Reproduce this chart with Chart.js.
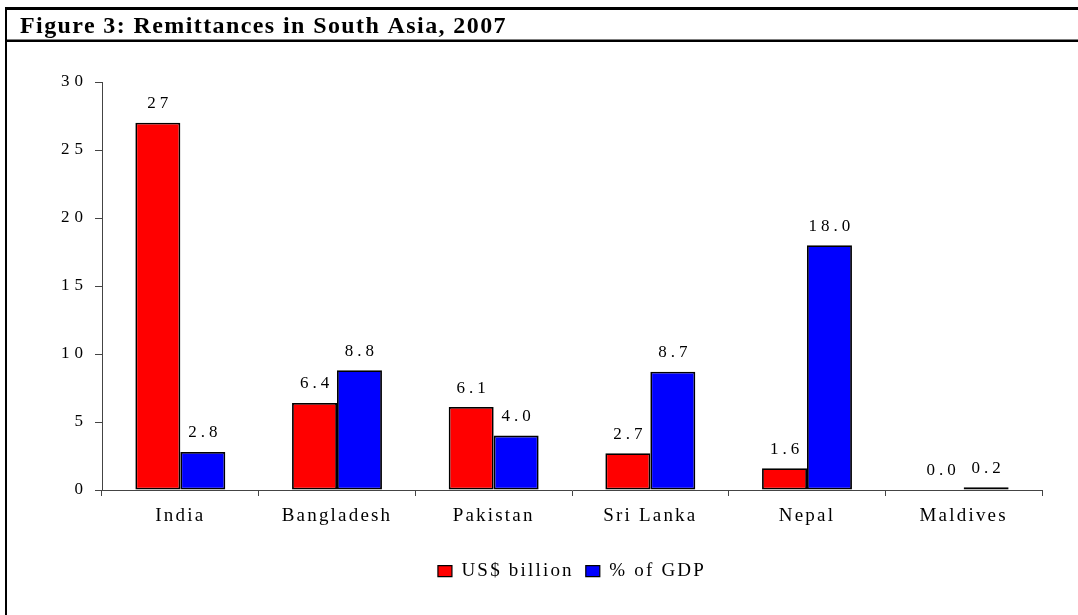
<!DOCTYPE html>
<html>
<head>
<meta charset="utf-8">
<script src="https://cdn.jsdelivr.net/npm/chart.js@4/dist/chart.umd.min.js"></script>
<style>
  html, body { margin: 0; padding: 0; background: #ffffff; }
  #wrap { width: 1078px; height: 615px; position: relative; }
  canvas { display: block; }
</style>
</head>
<body>
<div id="wrap"><canvas id="c" width="1078" height="615"></canvas></div>
<script>
const chartTitle = 'Figure 3: Remittances in South Asia, 2007';
const categories = ['India', 'Bangladesh', 'Pakistan', 'Sri Lanka', 'Nepal', 'Maldives'];
const seriesNames = ['US$ billion', '% of GDP'];
const usdBillion = [27, 6.4, 6.1, 2.7, 1.6, 0.0];
const pctOfGdp = [2.8, 8.8, 4.0, 8.7, 18.0, 0.2];
const yTicks = [0, 5, 10, 15, 20, 25, 30];

const SERIF = "'Liberation Serif', 'Times New Roman', serif";
const LS = 2.2;      // letter spacing for word labels
const NUM_LS = 5;    // letter spacing for numbers

function fmtUsd(v) { return v >= 10 ? String(v) : v.toFixed(1); }
function fmtPct(v) { return v.toFixed(1); }

class SpacedLinearScale extends Chart.LinearScale {
  drawLabels(chartArea) {
    const ctx = this.ctx;
    const prev = ctx.letterSpacing;
    ctx.letterSpacing = NUM_LS + 'px';
    super.drawLabels(chartArea);
    ctx.letterSpacing = prev;
  }
}
SpacedLinearScale.id = 'spacedLinear';
SpacedLinearScale.defaults = Chart.LinearScale.defaults;
Chart.register(SpacedLinearScale);

const framePlugin = {
  id: 'frame',
  beforeLayout(chart) { chart.ctx.letterSpacing = LS + 'px'; },
  beforeDraw(chart) {
    const ctx = chart.ctx;
    ctx.letterSpacing = LS + 'px';
    ctx.save();
    ctx.fillStyle = '#ffffff';
    ctx.fillRect(0, 0, chart.width, chart.height);
    ctx.fillStyle = '#000000';
    ctx.fillRect(5, 7, chart.width - 5, 3);
    ctx.fillRect(5, 39.5, chart.width - 5, 2.5);
    ctx.fillRect(5, 7, 2, chart.height - 7);
    ctx.letterSpacing = '1.4px';
    ctx.font = 'bold 24px ' + SERIF;
    ctx.textAlign = 'left';
    ctx.textBaseline = 'alphabetic';
    ctx.fillText(chartTitle, 20, 33);
    ctx.restore();
  }
};

const valueLabelPlugin = {
  id: 'valueLabels',
  afterDatasetsDraw(chart) {
    const ctx = chart.ctx;
    ctx.save();
    const ls = 4;
    ctx.letterSpacing = ls + 'px';
    ctx.font = '17px ' + SERIF;
    ctx.fillStyle = '#000000';
    ctx.textAlign = 'center';
    ctx.textBaseline = 'middle';
    chart.data.datasets.forEach((ds, di) => {
      const meta = chart.getDatasetMeta(di);
      meta.data.forEach((bar, i) => {
        const v = ds.data[i];
        const txt = di === 0 ? fmtUsd(v) : fmtPct(v);
        ctx.fillText(txt, bar.x + ls / 2, bar.y - 19);
      });
    });
    ctx.restore();
  }
};

const AXIS = '#444444';

new Chart(document.getElementById('c'), {
  type: 'bar',
  data: {
    labels: categories,
    datasets: [
      { label: seriesNames[0], data: usdBillion, backgroundColor: '#FF0000', borderColor: '#000000', borderWidth: 1.8, borderSkipped: false },
      { label: seriesNames[1], data: pctOfGdp, backgroundColor: '#0000FF', borderColor: '#000000', borderWidth: 1.8, borderSkipped: false }
    ]
  },
  options: {
    responsive: false,
    animation: false,
    devicePixelRatio: 1,
    layout: { padding: { top: 82, left: 20, right: 36, bottom: 24.3 } },
    datasets: { bar: { categoryPercentage: 0.574, barPercentage: 1.0 } },
    plugins: {
      title: { display: false },
      tooltip: { enabled: false },
      legend: {
        display: true,
        position: 'bottom',
        fullSize: false,
        labels: {
          font: { family: SERIF, size: 19 },
          color: '#000000',
          boxWidth: 14,
          boxHeight: 11,
          padding: 12,
          generateLabels(chart) {
            const items = Chart.Legend.defaults.labels.generateLabels(chart);
            items.forEach(it => { it.lineWidth = 1.2; });
            return items;
          }
        }
      }
    },
    scales: {
      x: {
        offset: true,
        grid: { display: true, drawOnChartArea: false, drawTicks: true, tickLength: 6, color: AXIS, offset: true },
        border: { display: true, color: AXIS, width: 1 },
        ticks: { font: { family: SERIF, size: 19 }, color: '#000000', padding: 9, autoSkip: false, maxRotation: 0 },
        afterFit(scale) { scale.height = 59.7; }
      },
      y: {
        type: 'spacedLinear',
        min: yTicks[0],
        max: yTicks[yTicks.length - 1],
        grid: { display: true, drawOnChartArea: false, drawTicks: true, tickLength: 7, color: AXIS },
        border: { display: true, color: AXIS, width: 1 },
        ticks: { stepSize: yTicks[1] - yTicks[0], font: { family: SERIF, size: 17 }, color: '#000000', padding: 7 },
        afterFit(scale) { scale.width = 82; }
      }
    }
  },
  plugins: [framePlugin, valueLabelPlugin]
});
</script>
</body>
</html>
